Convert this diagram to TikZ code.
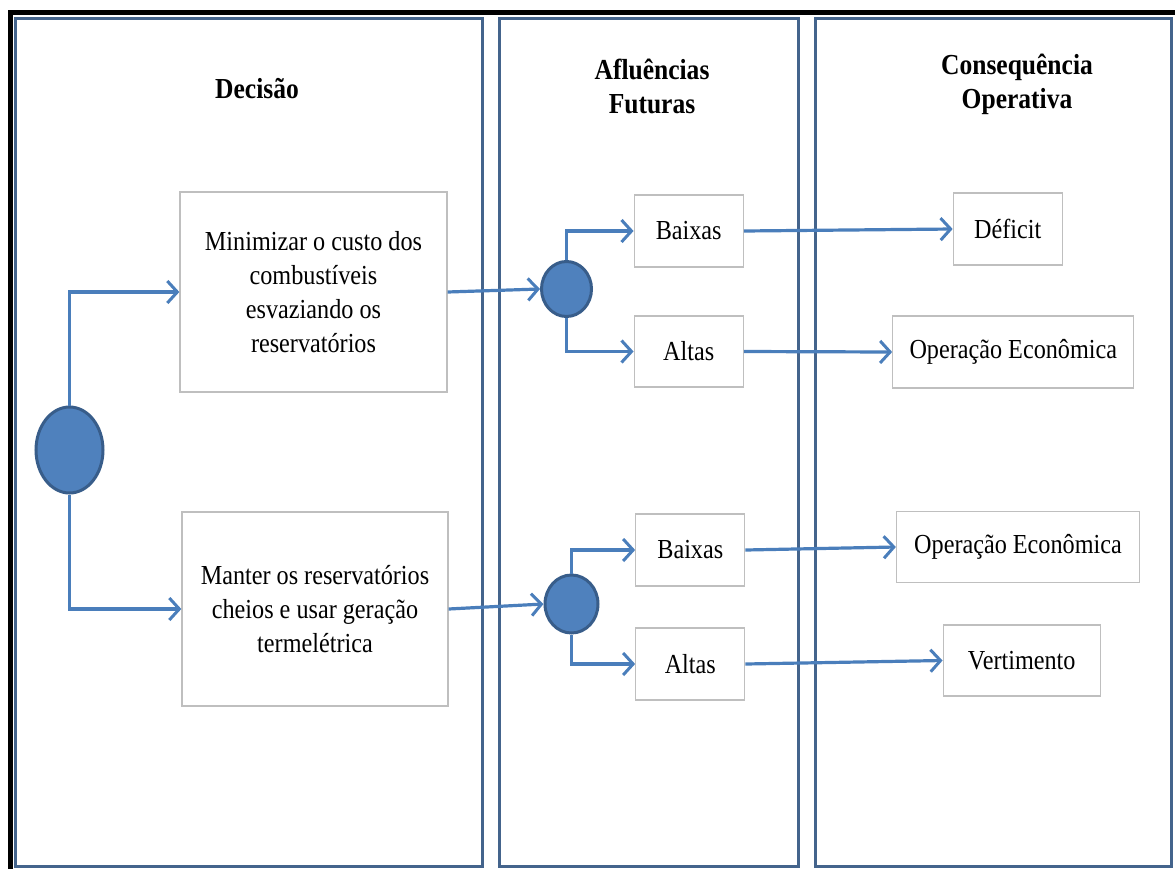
\documentclass[tikz,border=0pt]{standalone}
\usepackage{fontspec}
\setmainfont{Liberation Serif}[FakeStretch=0.88]
\usetikzlibrary{arrows.meta,shapes.geometric}
\definecolor{panelc}{HTML}{44648C}
\definecolor{arrowc}{HTML}{4A7EBB}
\definecolor{circfill}{HTML}{4F81BD}
\definecolor{circline}{HTML}{385D8A}
\definecolor{boxline}{HTML}{BFBFBF}
\tikzset{
  panel/.style={draw=panelc, line width=3pt},
  titletext/.style={align=center, font={\fontsize{29}{34}\selectfont\bfseries}},
  optbox/.style={draw=boxline, line width=1.3pt, fill=white, align=center, inner sep=0pt,
    font={\fontsize{27.5}{34}\selectfont}},
  chance/.style={ellipse, draw=circline, fill=circfill, line width=3pt, inner sep=0pt},
  conn/.style={draw=arrowc, line width=3.2pt, line cap=butt,
    -{Straight Barb[length=10pt,width=22pt,line width=3pt]}},
}
\begin{document}
\begin{tikzpicture}[x=1pt,y=-1pt]
\useasboundingbox (0,0) rectangle (1175,868);
\clip (0,0) rectangle (1175,868);
\fill[white] (0,0) rectangle (1175,868);
% outer black frame
\draw[black, line width=5pt] (10.5,12.5) rectangle (1190,885);
% panels
\draw[panel] (15,18) rectangle (482,866);
\draw[panel] (499,18) rectangle (798,866);
\draw[panel] (815,18) rectangle (1171,866);
% titles
\node[titletext, anchor=base] (t1) at (257,98) {Decisão};
\node[titletext] (t2) at (652,86) {Afluências\\Futuras};
\node[titletext] (t3) at (1017,84) {Consequência\\Operativa};
% decision boxes
\node[optbox, minimum width=267pt, minimum height=200pt] (box1) at (313.5,292)
  {Minimizar o custo dos\\combustíveis\\esvaziando os\\reservatórios};
\node[optbox, minimum width=266pt, minimum height=194pt] (box2) at (315,609)
  {Manter os reservatórios\\cheios e usar geração\\termelétrica};
% chance nodes
\node[chance, minimum width=67pt, minimum height=86pt] (c1) at (69.5,450) {};
\node[chance, minimum width=50pt, minimum height=55pt] (c2) at (566.5,289) {};
\node[chance, minimum width=53pt, minimum height=58pt] (c3) at (571.5,604) {};
% inflow boxes
\node[optbox, minimum width=109pt, minimum height=72pt] (b1) at (688.7,231) {Baixas};
\node[optbox, minimum width=109pt, minimum height=71pt] (a1) at (688.7,351.5) {Altas};
\node[optbox, minimum width=109pt, minimum height=72pt] (b2) at (690.3,550) {Baixas};
\node[optbox, minimum width=109pt, minimum height=72pt] (a2) at (690.3,664) {Altas};
% consequence boxes
\node[optbox, minimum width=109pt, minimum height=72pt] (def) at (1007.8,229) {Déficit};
\node[optbox, minimum width=241pt, minimum height=72pt] (op1) at (1013.3,352) {Operação Econômica};
\node[optbox, minimum width=243pt, minimum height=71pt] (op2) at (1018,547) {Operação Econômica};
\node[optbox, minimum width=157pt, minimum height=71pt] (vert) at (1021.7,660.5) {Vertimento};
% connectors
\draw[conn] (c1.north) |- (box1.west);
\draw[conn] (c1.south) |- (box2.west);
\draw[conn] (box1.east) -- (c2.west);
\draw[conn] (box2.east) -- (c3.west);
\draw[conn] (c2.north) |- (b1.west);
\draw[conn] (c2.south) |- (a1.west);
\draw[conn] (c3.north) |- (b2.west);
\draw[conn] (c3.south) |- (a2.west);
\draw[conn] (b1.east) -- (def.west);
\draw[conn] (a1.east) -- (op1.west);
\draw[conn] (b2.east) -- (op2.west);
\draw[conn] (a2.east) -- (vert.west);
\end{tikzpicture}
\end{document}
